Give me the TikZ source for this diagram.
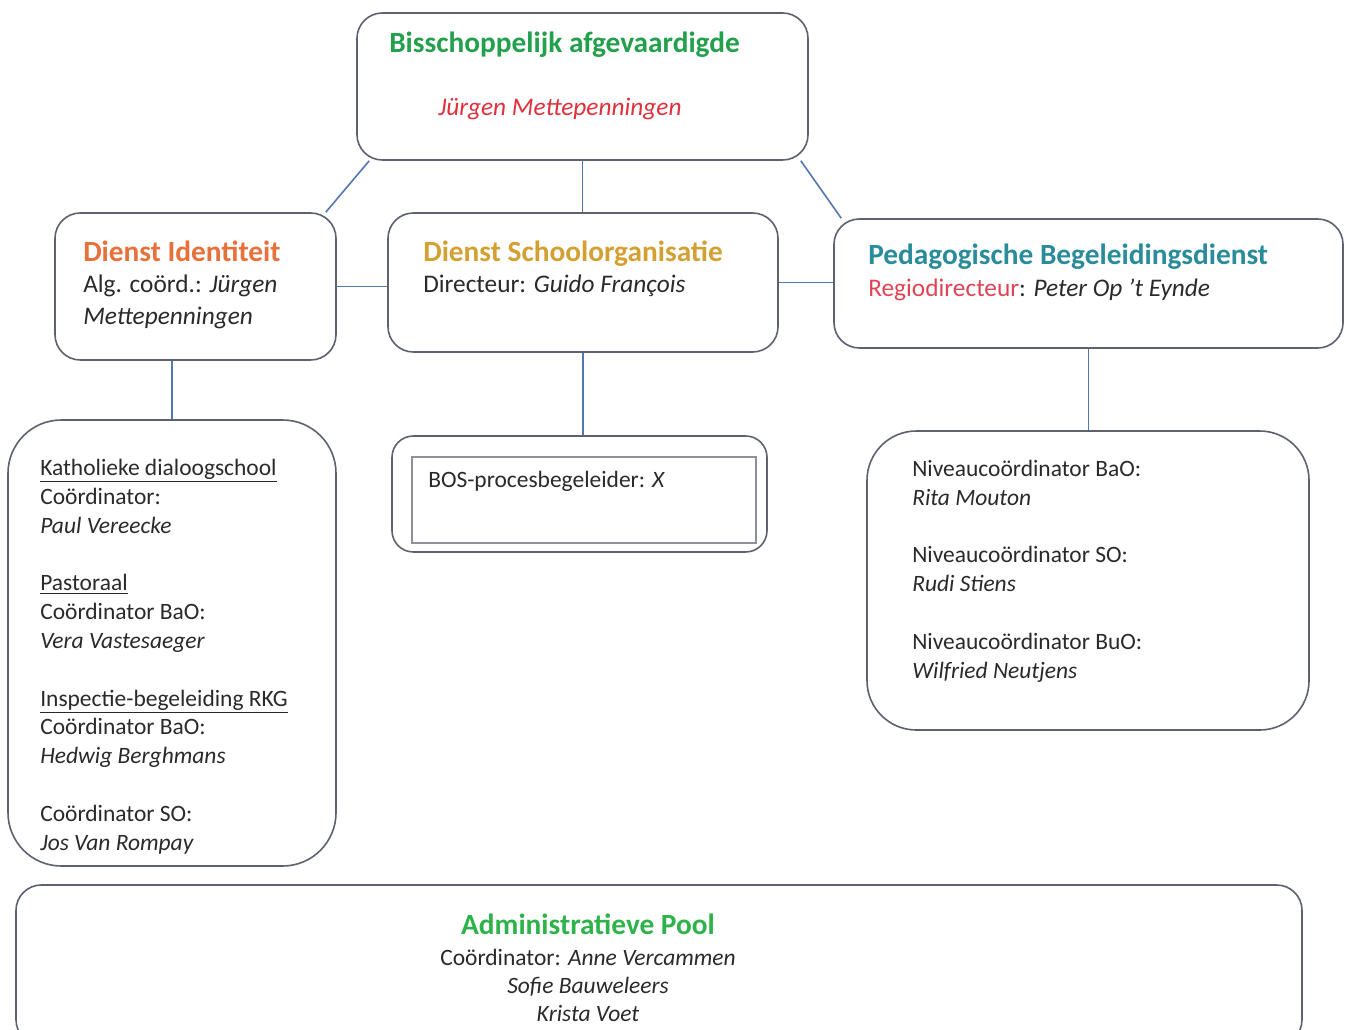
\documentclass[tikz,border=0pt]{standalone}
\usepackage{fontspec}
\setmainfont{Carlito}
\definecolor{boxgray}{HTML}{5E6270}
\definecolor{linkblue}{HTML}{5377B0}
\definecolor{tgreen}{HTML}{22A04C}
\definecolor{tred}{HTML}{E0303C}
\definecolor{torange}{HTML}{E8703A}
\definecolor{tgold}{HTML}{D4A032}
\definecolor{tteal}{HTML}{2A8C9A}
\definecolor{tpink}{HTML}{E04454}
\definecolor{agreen}{HTML}{2DB34A}
\definecolor{ttext}{HTML}{2A2A2A}
\newcommand{\titlefont}{\fontsize{22}{26}\selectfont\bfseries}
\newcommand{\headfont}{\fontsize{19}{24}\selectfont}
\newcommand{\bodyfont}{\fontsize{17.6}{21.6}\selectfont}
\begin{document}
\begin{tikzpicture}[x=0.75pt,y=-0.75pt,
  box/.style={draw=boxgray, line width=1.2pt, inner sep=0pt, fill=white},
  conn/.style={draw=linkblue, line width=1.2pt},
  txt/.style={anchor=base west, inner sep=0pt, align=left, text=ttext},
  ctxt/.style={anchor=base, inner sep=0pt, align=center, text=ttext}]
\useasboundingbox[fill=white] (0,0) rectangle (1348,1030);
\begin{scope}
\clip (0,0) rectangle (1348,1030);
% boxes
\node[box, rounded corners=19pt, minimum width=338.25pt, minimum height=110.25pt] (top) at (582.5,86.5) {};
\node[box, rounded corners=19pt, minimum width=210.75pt, minimum height=110.25pt] (ident) at (195.5,286.5) {};
\node[box, rounded corners=19pt, minimum width=292.5pt, minimum height=104.25pt] (school) at (583,282.5) {};
\node[box, rounded corners=19pt, minimum width=381.75pt, minimum height=96.75pt] (ped) at (1088.5,283.5) {};
\node[box, rounded corners=40pt, minimum width=246pt, minimum height=334.5pt] (kath) at (172,643) {};
\node[box, rounded corners=16pt, minimum width=281.25pt, minimum height=87pt] (bos) at (579.5,494) {};
\node[draw=boxgray!70, line width=0.8pt, inner sep=0pt, minimum width=258pt, minimum height=64.5pt] (bosin) at (584,500) {};
\node[box, rounded corners=37pt, minimum width=331.5pt, minimum height=224.25pt] (niv) at (1088,580.5) {};
\node[box, rounded corners=19pt, minimum width=964.5pt, minimum height=120pt] (admin) at (659,965) {};
% connectors
\draw[conn] ([xshift=9.75pt]top.south west) -- ([xshift=-8.25pt]ident.north east);
\draw[conn] (top.south) -- (top.south |- school.north);
\draw[conn] ([xshift=-6pt]top.south east) -- ([xshift=6pt]ped.north west);
\draw[conn] (ident.east) -- (ident.east -| school.west);
\draw[conn] (school.east) -- (school.east -| ped.west);
\draw[conn] (kath.north) -- (kath.north |- ident.south);
\draw[conn] (school.south) -- (school.south |- bos.north);
\draw[conn] (ped.south) -- (ped.south |- niv.north);
% texts (base anchor of a multi-line node = baseline of its last line)
\node[txt, font=\titlefont, text=tgreen] (topt) at (389,53) {Bisschoppelijk afgevaardigde};
\node[txt, font=\headfont, text=tred] (topn) at (438,116) {\itshape Jürgen Mettepenningen};
\node[txt, font=\titlefont, text=torange] (identt) at (83,262) {Dienst Identiteit};
\node[txt, font=\headfont, text=ttext] (identb) at (83,325) {Alg. coörd.: \textit{Jürgen}\\ \textit{Mettepenningen}};
\node[txt, font=\titlefont, text=tgold] (schoolt) at (423,262) {Dienst Schoolorganisatie};
\node[txt, font=\headfont] (schoolb) at (423,293) {Directeur: \textit{Guido François}};
\node[txt, font=\titlefont, text=tteal] (pedt) at (868,265) {Pedagogische Begeleidingsdienst};
\node[txt, font=\headfont] (pedb) at (868,297) {\textcolor{tpink}{Regiodirecteur}: \textit{Peter Op 't Eynde}};
\node[txt, font=\bodyfont] (kathb) at (40,850) {\underline{Katholieke dialoogschool}\\ Coördinator:\\ \textit{Paul Vereecke}\\[21.6pt]
\underline{Pastoraal}\\ Coördinator BaO:\\ \textit{Vera Vastesaeger}\\[21.6pt]
\underline{Inspectie-begeleiding RKG}\\ Coördinator BaO:\\ \textit{Hedwig Berghmans}\\[21.6pt]
Coördinator SO:\\ \textit{Jos Van Rompay}};
\node[txt, font=\bodyfont] (bost) at (428,487) {BOS-procesbegeleider: \textit{X}};
\node[txt, font=\bodyfont] (nivb) at (912,678) {Niveaucoördinator BaO:\\ \textit{Rita Mouton}\\[21.6pt]
Niveaucoördinator SO:\\ \textit{Rudi Stiens}\\[21.6pt]
Niveaucoördinator BuO:\\ \textit{Wilfried Neutjens}};
\node[ctxt, font=\titlefont, text=agreen] (admint) at (588,934) {Administratieve Pool};
\node[ctxt, font=\fontsize{17.6}{21}\selectfont] (adminb) at (588,1021) {Coördinator: \textit{Anne Vercammen}\\ \textit{Sofie Bauweleers}\\ \textit{Krista Voet}};
\end{scope}
\end{tikzpicture}
\end{document}
